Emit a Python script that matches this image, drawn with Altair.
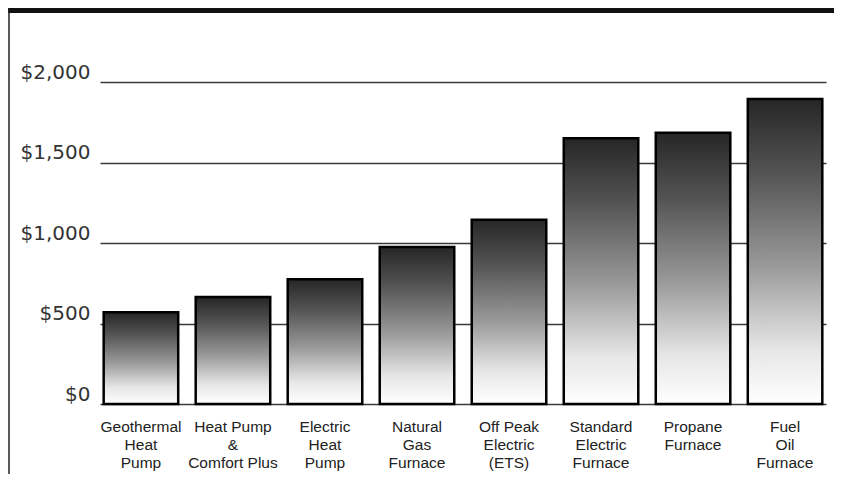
import altair as alt
import pandas as pd

categories = [
    "Geothermal\nHeat\nPump",
    "Heat Pump\n&\nComfort  Plus",
    "Electric\nHeat\nPump",
    "Natural\nGas\nFurnace",
    "Off  Peak\nElectric\n(ETS)",
    "Standard\nElectric\nFurnace",
    "Propane\nFurnace",
    "Fuel\nOil\nFurnace",
]
costs = [570, 665, 775, 975, 1145, 1650, 1685, 1895]
y_ticks = [0, 500, 1000, 1500, 2000]

df = pd.DataFrame({"system": categories, "cost": costs})
deco = pd.DataFrame({"k": [0]})

W, H = 726, 322
PAD = {"left": 92, "top": 74, "right": 8, "bottom": 70}

gradient = alt.Gradient(
    gradient="linear",
    stops=[
        alt.GradientStop(color="#262626", offset=0),
        alt.GradientStop(color="#555555", offset=0.25),
        alt.GradientStop(color="#9a9a9a", offset=0.55),
        alt.GradientStop(color="#e6e6e6", offset=0.82),
        alt.GradientStop(color="#ffffff", offset=1),
    ],
    x1=0, x2=0, y1=0, y2=1,
)

bars = alt.Chart(df).mark_bar(
    color=gradient, stroke="#000000", strokeWidth=2.5
).encode(
    x=alt.X(
        "system:N",
        sort=categories,
        title=None,
        scale=alt.Scale(paddingInner=0.19, paddingOuter=0.04),
        axis=alt.Axis(
            labelExpr="split(datum.label, '\\n')",
            labelAngle=0,
            labelFont="Liberation Sans",
            labelFontSize=15.5,
            labelLineHeight=18,
            labelColor="#222222",
            labelBaseline="top",
            labelPadding=15,
            ticks=False,
            domain=False,
            grid=False,
        ),
    ),
    y=alt.Y(
        "cost:Q",
        title=None,
        scale=alt.Scale(domain=[0, 2000], nice=False),
        axis=alt.Axis(
            values=y_ticks,
            format="$,d",
            labelFont="DejaVu Sans",
            labelFontSize=20,
            labelColor="#333333",
            labelBaseline="bottom",
            labelPadding=10,
            ticks=False,
            domain=False,
            grid=True,
            gridColor="#3a3a3a",
            gridWidth=1.4,
            gridOpacity=1,
        ),
    ),
)

top_band = alt.Chart(deco).mark_rect(color="#111111").encode(
    x=alt.value(-PAD["left"]), x2=alt.value(W + PAD["right"]),
    y=alt.value(-PAD["top"]), y2=alt.value(-PAD["top"] + 5),
)
left_edge = alt.Chart(deco).mark_rule(color="#222222", strokeWidth=1.5).encode(
    x=alt.value(-PAD["left"] + 1), y=alt.value(-PAD["top"]), y2=alt.value(H + PAD["bottom"]),
)

chart = alt.layer(bars, top_band, left_edge).properties(
    width=W, height=H, padding=PAD, autosize="none", background="white"
).configure_view(stroke=None)

chart.save("out.html", embed_options={"renderer": "svg", "actions": False})
